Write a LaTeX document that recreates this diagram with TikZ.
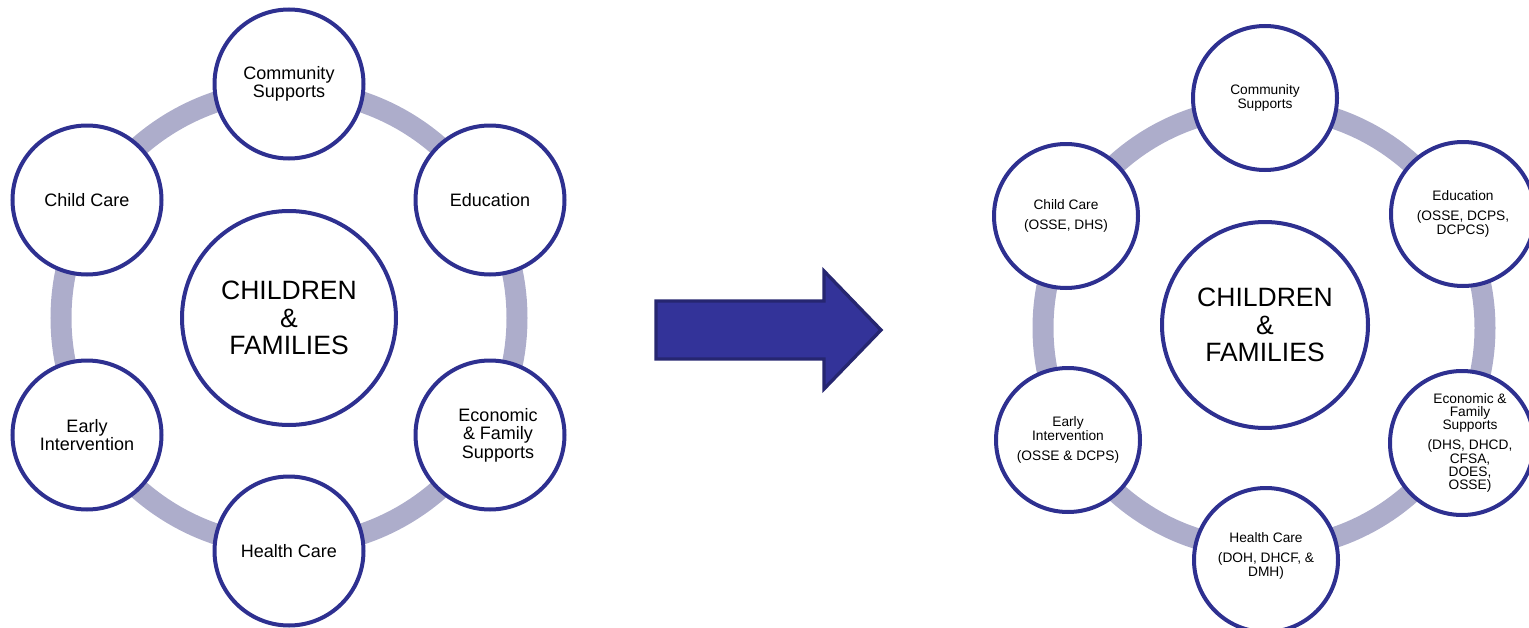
\documentclass[tikz,border=0pt]{standalone}
\usepackage{fontspec}
\setmainfont{Liberation Sans}
\definecolor{ringc}{HTML}{ADADCB}
\definecolor{circc}{HTML}{2E3090}
\definecolor{arrowfill}{HTML}{333399}
\definecolor{arrowline}{HTML}{262670}
\begin{document}
\begin{tikzpicture}[x=0.75pt,y=-0.75pt,
  ring/.style={draw=ringc,line width=15.75pt},
  bigsat/.style={circle,draw=circc,line width=3pt,fill=white,inner sep=0pt,minimum size=111.75pt,align=center,font=\fontsize{13.5pt}{13.8pt}\selectfont},
  smallsat/.style={circle,draw=circc,line width=3pt,fill=white,inner sep=0pt,minimum size=108pt,align=center,font=\fontsize{10.3pt}{10pt}\selectfont},
  hubL/.style={circle,draw=circc,line width=3pt,fill=white,inner sep=0pt,minimum size=160.5pt,align=center,font=\fontsize{19.9pt}{20.8pt}\selectfont},
  hubR/.style={circle,draw=circc,line width=3pt,fill=white,inner sep=0pt,minimum size=154.5pt,align=center,font=\fontsize{19.9pt}{20.8pt}\selectfont},
  bigarrow/.style={fill=arrowfill,draw=arrowline,line width=2.5pt,line join=miter}
]
\useasboundingbox (0,0) rectangle (1529,628);
% left diagram
\draw[ring] (289,318) circle [radius=228];
\node[hubL] (lhub) at (289,318) {CHILDREN\\\&\\FAMILIES};
\node[bigsat] (lcom) at (289,84) {Community\\Supports};
\node[bigsat] (lcc) at (87,200) {Child Care};
\node[bigsat] (ledu) at (490,200) {Education};
\node[bigsat] (lei) at (87,435) {Early\\Intervention};
\node[bigsat,label={[align=center,font=\fontsize{13.5pt}{13.8pt}\selectfont,xshift=6pt]center:Economic\\\& Family\\Supports}] (leco) at (490,435) {};
\node[bigsat] (lhc) at (289,551) {Health Care};
% arrow
\draw[bigarrow] (656,301) -- (824,301) -- (824,271) -- (881,330) -- (824,389) -- (824,359) -- (656,359) -- cycle;
% right diagram
\draw[ring] (1264,328) circle [radius=221];
\node[hubR] (rhub) at (1265,325) {CHILDREN\\\&\\FAMILIES};
\node[smallsat] (rcom) at (1265,98) {Community\\Supports};
\node[smallsat] (rcc) at (1066,216) {Child Care\\[5pt](OSSE, DHS)};
\node[smallsat] (redu) at (1463,214) {Education\\[5pt](OSSE, DCPS,\\DCPCS)};
\node[smallsat] (rei) at (1068,440) {Early\\Intervention\\[5pt](OSSE \& DCPS)};
\node[smallsat,label={[align=center,font=\fontsize{10.3pt}{10pt}\selectfont,xshift=6pt]center:Economic \&\\Family\\Supports\\[5pt](DHS, DHCD,\\CFSA,\\DOES,\\OSSE)}] (reco) at (1462,443) {};
\node[smallsat,label={[align=center,font=\fontsize{10.3pt}{10pt}\selectfont,yshift=3pt]center:Health Care\\[5pt](DOH, DHCF, \&\\DMH)}] (rhc) at (1266,560) {};
\end{tikzpicture}
\end{document}
